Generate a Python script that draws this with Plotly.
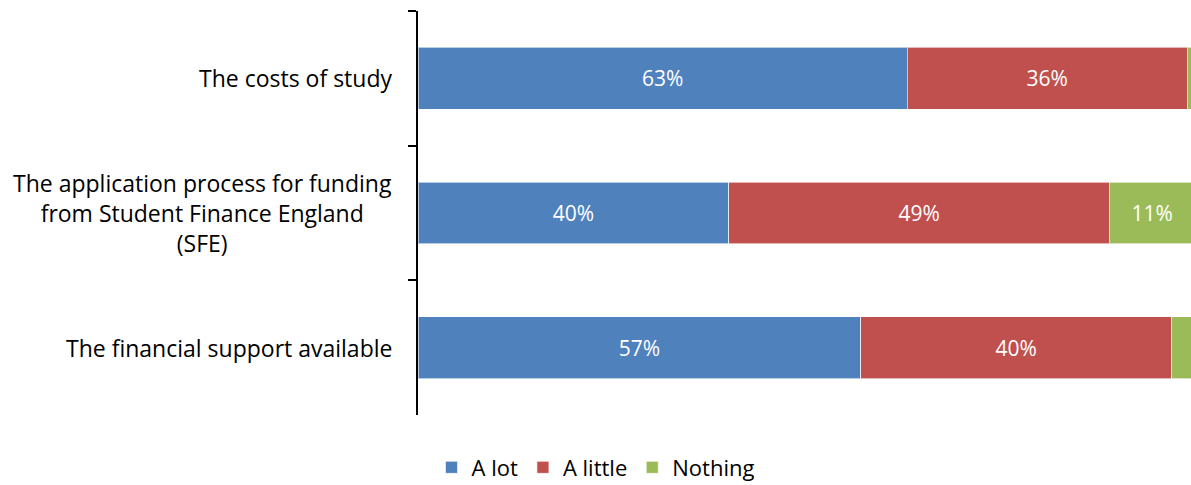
import plotly.graph_objects as go

categories = ["The costs of study",
              "The application process for funding<br>from Student Finance England<br>(SFE)",
              "The financial support available"]
a_lot = [63, 40, 57]
a_little = [36, 49, 40]
nothing = [1, 11, 3]
series_names = ["A lot", "A little", "Nothing"]
colors = ["#4F81BD", "#C0504D", "#9BBB59"]

FONT = "Open Sans"
fig = go.Figure()
for name, vals, col in zip(series_names, [a_lot, a_little, nothing], colors):
    fig.add_trace(go.Bar(
        y=categories, x=[v / 100 for v in vals], name=name, orientation="h",
        marker=dict(color=col, line=dict(color="rgba(255,255,255,0.6)", width=1)),
        text=[f"{v}%" if v >= 5 else "" for v in vals],
        textposition="inside", insidetextanchor="middle",
        textfont=dict(color="white", size=21, family=FONT),
        constraintext="none", cliponaxis=True,
    ))

for i, c in enumerate(categories):
    fig.add_annotation(x=0, y=c, xref="paper", yref="y", text=c, showarrow=False,
                       xanchor="right", yanchor="middle", align="center", xshift=-24,
                       font=dict(size=23, family=FONT, color="#000"))

fig.update_layout(
    width=1191, height=485, barmode="stack", bargap=0.54,
    margin=dict(l=418, r=0, t=11, b=70, autoexpand=False),
    plot_bgcolor="white", paper_bgcolor="white",
    font=dict(family=FONT, size=22, color="#000"),
    showlegend=True,
    legend=dict(orientation="h", xref="container", x=0.5, xanchor="center",
                yref="container", y=0.036, yanchor="middle",
                font=dict(size=22, family=FONT), itemwidth=30, traceorder="normal"),
    uniformtext=dict(mode=False),
)
fig.update_xaxes(range=[0, 0.995], visible=False, showgrid=False, zeroline=False)
fig.update_yaxes(autorange="reversed", showticklabels=False, ticks="outside", ticklen=8,
                 tickson="boundaries", tickcolor="black", tickwidth=2,
                 showline=True, linecolor="black", linewidth=2, showgrid=False)

fig.write_html("out.html")
